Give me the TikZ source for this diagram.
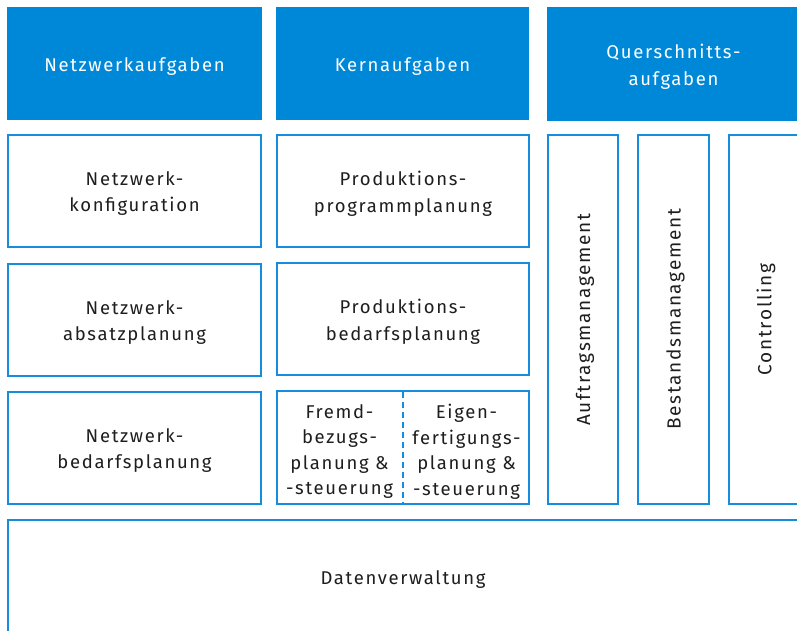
\documentclass[tikz,border=0pt]{standalone}
\usepackage{fontspec}
\setmainfont{Fira Sans}[LetterSpace=9]
\definecolor{hblue}{RGB}{0,136,216}
\definecolor{bblue}{RGB}{22,140,222}
\definecolor{txt}{RGB}{30,30,30}
\begin{document}
\begin{tikzpicture}[x=1pt,y=-1pt,
  hdr/.style={fill=hblue,draw=none,inner sep=0pt},
  hdrtext/.style={text=white,align=center,inner sep=0pt,yshift=-3pt,font=\fontsize{18.5}{27}\selectfont},
  cell/.style={draw=bblue,line width=2pt,inner sep=0pt},
  plain/.style={text=txt,align=center,inner sep=0pt,yshift=-2.5pt,font=\fontsize{18.5}{26.5}\selectfont},
  small/.style={text=txt,align=center,inner sep=0pt,font=\fontsize{18.5}{25.5}\selectfont},
  vert/.style={text=txt,rotate=90,inner sep=0pt,font=\fontsize{19}{25}\selectfont},
  divider/.style={draw=bblue,line width=1.6pt,dash pattern=on 6pt off 4pt}]
\useasboundingbox (0,0) rectangle (797,630);
\clip (0,0) rectangle (797,630);
\fill[white] (0,0) rectangle (797,630);
% headers
\node[hdr,minimum width=255pt,minimum height=113pt] (h1) at (134.5,63.5) {};
\node[hdrtext] (h1t) at (h1.center) {Netzwerkaufgaben};
\node[hdr,minimum width=253pt,minimum height=113pt] (h2) at (402.5,63.5) {};
\node[hdrtext] (h2t) at (h2.center) {Kernaufgaben};
\node[hdr,minimum width=253pt,minimum height=114pt] (h3) at (673.5,64) {};
\node[hdrtext] (h3t) at (h3.center) {Querschnitts-\\aufgaben};
% left column
\node[cell,minimum width=253pt,minimum height=112pt] (l1) at (134.5,191) {};
\node[plain] (l1t) at (l1.center) {Netzwerk-\\konfiguration};
\node[cell,minimum width=253pt,minimum height=112pt] (l2) at (134.5,320) {};
\node[plain] (l2t) at (l2.center) {Netzwerk-\\absatzplanung};
\node[cell,minimum width=253pt,minimum height=112pt] (l3) at (134.5,448) {};
\node[plain] (l3t) at (l3.center) {Netzwerk-\\bedarfsplanung};
% middle column
\node[cell,minimum width=252pt,minimum height=112pt] (m1) at (403,191) {};
\node[plain] (m1t) at (m1.center) {Produktions-\\programmplanung};
\node[cell,minimum width=252pt,minimum height=112pt] (m2) at (403,319) {};
\node[plain] (m2t) at (m2.center) {Produktions-\\bedarfsplanung};
\node[cell,minimum width=252pt,minimum height=113pt] (m3) at (403,447.5) {};
\coordinate (dtop) at (403,392);
\coordinate (dbot) at (403,504);
\draw[divider] (dtop) -- (dbot);
\node[small] (m3a) at (339.5,451.5) {Fremd-\\bezugs-\\planung \&\\-steuerung};
\node[small] (m3b) at (466.5,451.5) {Eigen-\\fertigungs-\\planung \&\\-steuerung};
% right columns
\node[cell,minimum width=70pt,minimum height=369pt] (r1) at (583,319.5) {};
\node[vert] (r1t) at ([xshift=2pt]r1.center) {Auftragsmanagement};
\node[cell,minimum width=71pt,minimum height=369pt] (r2) at (673.5,319.5) {};
\node[vert] (r2t) at ([xshift=2pt]r2.center) {Bestandsmanagement};
\node[cell,minimum width=70pt,minimum height=369pt] (r3) at (764,319.5) {};
\node[vert] (r3t) at ([xshift=2pt]r3.center) {Controlling};
% bottom
\node[cell,minimum width=791pt,minimum height=119pt] (d) at (403.5,579.5) {};
\node[plain] (dt) at (403,577.5) {Datenverwaltung};
\end{tikzpicture}
\end{document}
